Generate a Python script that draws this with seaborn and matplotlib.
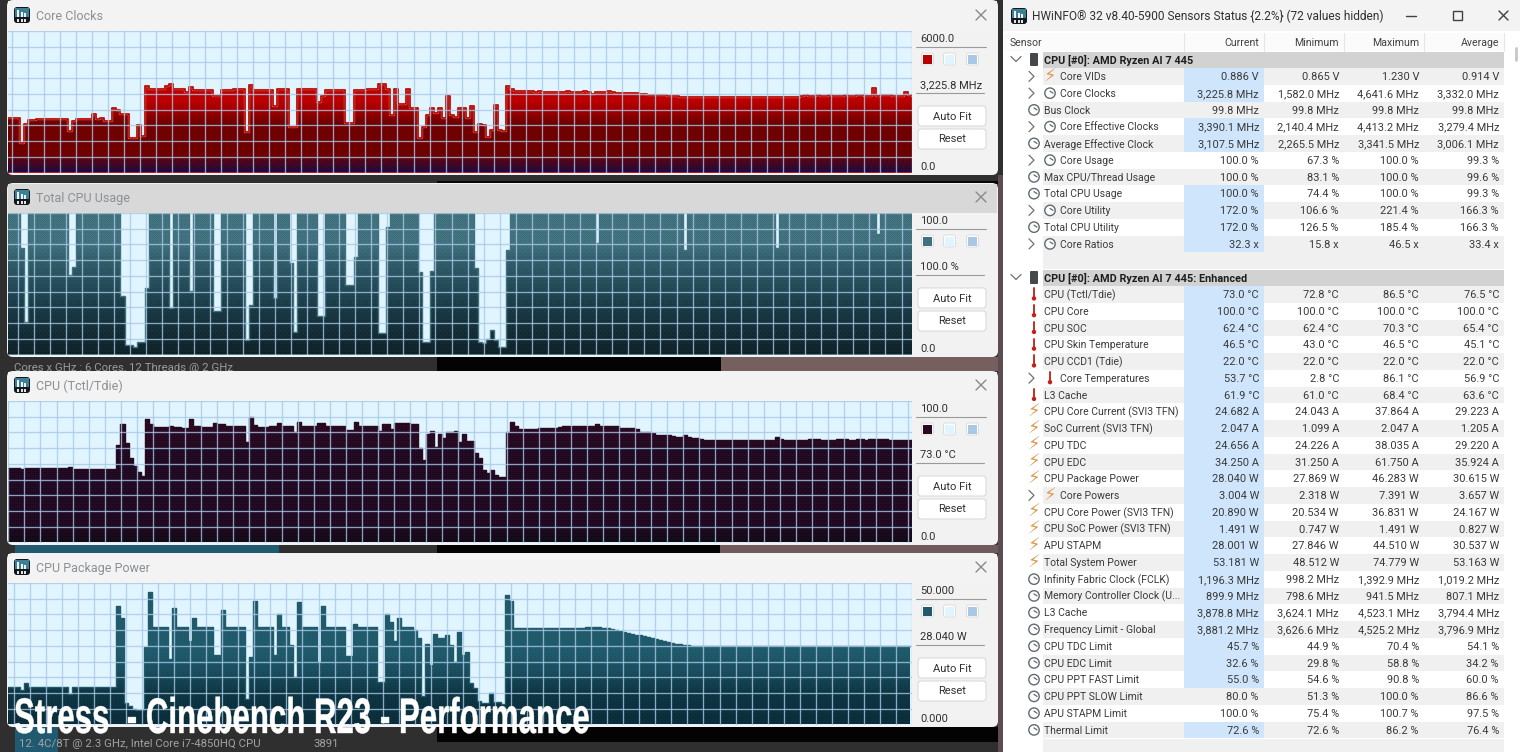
# HWiNFO sensor graphs next to the sensor table (Cinebench R23 stress run)
import numpy as np
import matplotlib
matplotlib.use("Agg")
import matplotlib.pyplot as plt
import matplotlib.patheffects as pe
from matplotlib.colors import to_rgb
from matplotlib.patches import FancyBboxPatch, Rectangle, Circle
from matplotlib.transforms import Affine2D
import seaborn as sns

# Graph data, one value per sample
core_clocks = [
    2290,2290,2290,1260,2050,2220,2220,2250,2250,2280,
    2280,2280,2280,2280,2280,1770,2190,2250,2250,2250,
    2250,2480,2280,2330,2190,2190,2720,2650,2460,2460,
    1460,1460,2010,1540,3680,3520,3520,3520,3520,3680,
    3750,3520,3520,3520,3420,3620,3510,3510,3510,3510,
    3510,3240,3240,3490,3490,3490,3540,3540,3540,1710,
    3700,3490,3490,3490,3490,3490,2830,3520,3520,3520,
    1920,1920,3560,3520,3520,3520,3520,3000,3250,3510,
    3510,3510,3510,3510,2110,2110,3510,3510,3510,3530,
    3530,3530,3750,3750,3520,2420,3560,2900,2900,3560,
    2730,2730,1460,1940,2430,2720,2510,2720,2330,3250,
    2430,2360,2750,2750,2290,2830,1730,2050,2010,1490,
    1800,2860,1800,1770,3665,3560,3465,3465,3465,3465,
    3440,3420,3440,3430,3420,3430,3430,3420,3430,3440,
    3430,3430,3420,3440,3430,3340,3420,3430,3420,3440,
    3400,3380,3370,3370,3370,3370,3360,3330,3320,3300,
    3300,3290,3280,3270,3260,3240,3230,3220,3210,3220,
    3200,3190,3190,3190,3200,3210,3210,3210,3200,3200,
    3190,3200,3200,3200,3200,3210,3200,3190,3200,3210,
    3200,3190,3200,3200,3210,3200,3190,3230,3290,3250,
    3240,3270,3250,3240,3270,3260,3260,3260,3290,3230,
    3260,3270,3270,3250,3260,3570,3260,3300,3280,3270,
    3260,3230,3240,3420,3270,3226,
]
cpu_usage = [
    100,100,100,75,23,100,100,100,100,100,
    100,100,100,100,100,56,62,100,100,100,
    100,100,100,100,100,100,100,100,41,7,
    7,5,9,9,47,100,100,100,100,100,
    33,100,100,100,100,45,100,100,100,100,
    100,31,31,100,100,100,100,100,100,10,
    35,100,100,100,100,100,40,100,100,100,
    65,16,100,100,100,100,100,27,27,100,
    100,100,100,100,49,49,69,100,100,100,
    100,100,15,15,90,100,100,100,100,100,
    100,100,58,9,9,59,100,100,100,100,
    100,100,100,100,100,100,61,9,8,11,
    17,10,5,5,74,100,100,100,100,100,
    100,100,100,100,100,100,100,100,100,100,
    100,100,100,100,100,100,79,100,100,100,
    100,100,100,100,100,100,100,100,100,100,
    100,100,100,100,100,100,100,100,74,100,
    100,100,100,100,100,100,100,100,100,100,
    100,100,100,100,100,100,100,100,100,100,
    100,75,100,100,100,100,100,100,100,100,
    100,100,100,100,100,100,100,100,100,100,
    100,100,100,100,100,100,85,100,100,100,
    100,100,100,100,100,100,
]
cpu_temp = [
    52.4,52.4,52.4,51.7,52.6,52.6,52.6,52.6,52.6,52.6,
    52.6,52.6,52.4,52.4,52.4,53.5,51.7,51.7,51.7,51.7,
    51.7,51.7,51.7,51.7,51.7,51.7,51.7,69,84,70.5,
    59.4,54,50,47,87,84,81.4,81.4,81.4,81.4,
    82.5,81.4,81.4,81,81,87,82,82,81.4,81.4,
    81.4,84.7,83.5,83.5,82,82,82,82,82,71,
    88.4,83,81.4,81.4,81.4,82,82,84.7,82,82,
    82,78,85,82,82,82.5,82.5,84.7,84.7,82.5,
    82.5,82.5,82.5,82.5,79.5,79.5,85,82,82,82,
    82,82,79,83.7,83.7,80,84.7,84.7,84.7,84.7,
    83.5,84,67,58,77,79,67.7,76.7,74,78,
    78,79,71,76.7,71.7,71.7,63,59.4,51,49,
    51,48,46.5,46.5,78,85.4,82,80,80,80,
    80,80,81,81,81,81,81,81.5,82.3,82.3,
    82.3,82.3,82.3,82.3,82.3,82.3,84,82.3,82.3,82.3,
    82.3,82,81,80.7,80.7,80.7,80.5,78.3,78.3,78,
    77.5,76,76,75.8,75.8,75,74.8,74.8,76,74.5,
    74,73.5,73,72.6,72.6,72.6,72.6,72.6,72.6,72.4,
    72.6,72.6,72.6,72.4,72.6,72.6,72.6,72.6,72.6,72.6,
    72.6,74.3,72.8,72.4,72.4,72.4,72.4,72.6,72.4,72.8,
    73,72.8,72.6,72.6,72.4,72.6,72.8,72.8,72.8,72.6,
    72.6,72.8,72.8,72.6,73,72.8,73,72.8,72.8,72.6,
    72.6,72.6,72.6,72.6,72.6,72.6,
]
package_power = [
    13.4,13.4,13.4,12.3,14.6,13.4,13.4,13.4,13.4,13.4,
    13.4,13.4,13.4,13.4,13.4,10.7,13.4,13.4,13.4,13.4,
    13.4,13.4,13.4,13.4,13.4,13.4,13.4,41.8,37.7,7.6,
    6.4,5.6,5.3,5.3,27.5,46.7,34.5,34.5,34.5,34.5,
    23,41.2,34.5,34.5,34.5,29.4,37.7,34.5,34.5,34.5,
    34.5,24.4,24.4,40.3,34.5,34.5,34.5,34.5,34.5,9,
    24,43.8,34.5,34.5,34.5,34.5,24.5,39,34.5,34.5,
    28,16.8,43.2,34.5,34.5,34.5,34.5,22,41.8,34.5,
    34.5,34.5,34.5,34.5,24.2,24.2,35.6,34.5,34.5,34.5,
    34.5,34.5,15,15,38.9,36.2,29.4,37.7,34.5,34.5,
    34.5,33.5,30.7,10.2,28.6,21,31.9,30.4,30.7,31.5,
    28,22.2,32.7,24.5,25.7,14.6,12.8,8.2,7.6,7.6,
    11,7.8,7.8,7.4,45.9,43.8,34.2,34.2,34.2,34.2,
    34.2,34.2,34.2,34.2,34.2,34.2,34.2,34.2,34.2,34.2,
    34.2,34.2,34.2,34.2,34.4,34.4,34.4,34.4,34.2,34.2,
    33.8,33.4,33.0,32.7,32.4,32.1,31.8,31.5,31.2,30.9,
    30.6,30.3,30.0,29.6,29.2,28.9,28.6,28.4,28.2,28.0,
    27.8,27.6,27.6,27.6,27.6,27.6,27.6,27.6,27.6,27.6,
    27.6,27.6,27.6,27.6,27.6,27.6,27.6,27.6,27.6,27.6,
    27.6,27.6,27.6,27.6,27.6,27.6,27.6,27.6,27.6,27.6,
    27.6,27.6,27.6,27.6,27.6,27.6,27.6,27.6,27.6,27.6,
    27.6,27.6,27.6,27.6,27.6,27.6,27.6,27.6,27.6,27.6,
    27.6,27.6,27.6,27.6,27.6,27.6,
]

graph_titles = ["Core Clocks", "Total CPU Usage", "CPU (Tctl/Tdie)", "CPU Package Power"]
graph_values = [core_clocks, cpu_usage, cpu_temp, package_power]
graph_max = [6000, 100, 100, 50]
max_labels = ["6000.0", "100.0", "100.0", "50.000"]
min_labels = ["0.0", "0.0", "0.0", "0.000"]
now_labels = ["3,225.8 MHz", "100.0 %", "73.0 °C", "28.040 W"]

# Sensor table
section_names = ["CPU [#0]: AMD Ryzen AI 7 445", "CPU [#0]: AMD Ryzen AI 7 445: Enhanced"]
table_columns = ["Sensor", "Current", "Minimum", "Maximum", "Average"]

names_a = ["Core VIDs", "Core Clocks", "Bus Clock", "Core Effective Clocks", "Average Effective Clock",
           "Core Usage", "Max CPU/Thread Usage", "Total CPU Usage", "Core Utility", "Total CPU Utility",
           "Core Ratios"]
current_a = ["0.886 V", "3,225.8 MHz", "99.8 MHz", "3,390.1 MHz", "3,107.5 MHz", "100.0 %", "100.0 %",
             "100.0 %", "172.0 %", "172.0 %", "32.3 x"]
minimum_a = ["0.865 V", "1,582.0 MHz", "99.8 MHz", "2,140.4 MHz", "2,265.5 MHz", "67.3 %", "83.1 %",
             "74.4 %", "106.6 %", "126.5 %", "15.8 x"]
maximum_a = ["1.230 V", "4,641.6 MHz", "99.8 MHz", "4,413.2 MHz", "3,341.5 MHz", "100.0 %", "100.0 %",
             "100.0 %", "221.4 %", "185.4 %", "46.5 x"]
average_a = ["0.914 V", "3,332.0 MHz", "99.8 MHz", "3,279.4 MHz", "3,006.1 MHz", "99.3 %", "99.6 %",
             "99.3 %", "166.3 %", "166.3 %", "33.4 x"]
icons_a = "vcccccccccc"
nested_a = [1, 1, 0, 1, 0, 1, 0, 0, 1, 0, 1]
marked_a = [1, 1, 0, 1, 1, 0, 0, 1, 1, 1, 1]

names_b = ["CPU (Tctl/Tdie)", "CPU Core", "CPU SOC", "CPU Skin Temperature", "CPU CCD1 (Tdie)",
           "Core Temperatures", "L3 Cache", "CPU Core Current (SVI3 TFN)", "SoC Current (SVI3 TFN)",
           "CPU TDC", "CPU EDC", "CPU Package Power", "Core Powers", "CPU Core Power (SVI3 TFN)",
           "CPU SoC Power (SVI3 TFN)", "APU STAPM", "Total System Power", "Infinity Fabric Clock (FCLK)",
           "Memory Controller Clock (U...", "L3 Cache", "Frequency Limit - Global", "CPU TDC Limit",
           "CPU EDC Limit", "CPU PPT FAST Limit", "CPU PPT SLOW Limit", "APU STAPM Limit", "Thermal Limit"]
current_b = ["73.0 °C", "100.0 °C", "62.4 °C", "46.5 °C", "22.0 °C", "53.7 °C", "61.9 °C", "24.682 A",
             "2.047 A", "24.656 A", "34.250 A", "28.040 W", "3.004 W", "20.890 W", "1.491 W", "28.001 W",
             "53.181 W", "1,196.3 MHz", "899.9 MHz", "3,878.8 MHz", "3,881.2 MHz", "45.7 %", "32.6 %",
             "55.0 %", "80.0 %", "100.0 %", "72.6 %"]
minimum_b = ["72.8 °C", "100.0 °C", "62.4 °C", "43.0 °C", "22.0 °C", "2.8 °C", "61.0 °C", "24.043 A",
             "1.099 A", "24.226 A", "31.250 A", "27.869 W", "2.318 W", "20.534 W", "0.747 W", "27.846 W",
             "48.512 W", "998.2 MHz", "798.6 MHz", "3,624.1 MHz", "3,626.6 MHz", "44.9 %", "29.8 %",
             "54.6 %", "51.3 %", "75.4 %", "72.6 %"]
maximum_b = ["86.5 °C", "100.0 °C", "70.3 °C", "46.5 °C", "22.0 °C", "86.1 °C", "68.4 °C", "37.864 A",
             "2.047 A", "38.035 A", "61.750 A", "46.283 W", "7.391 W", "36.831 W", "1.491 W", "44.510 W",
             "74.779 W", "1,392.9 MHz", "941.5 MHz", "4,523.1 MHz", "4,525.2 MHz", "70.4 %", "58.8 %",
             "90.8 %", "100.0 %", "100.7 %", "86.2 %"]
average_b = ["76.5 °C", "100.0 °C", "65.4 °C", "45.1 °C", "22.0 °C", "56.9 °C", "63.6 °C", "29.223 A",
             "1.205 A", "29.220 A", "35.924 A", "30.615 W", "3.657 W", "24.167 W", "0.827 W", "30.537 W",
             "53.163 W", "1,019.2 MHz", "807.1 MHz", "3,794.4 MHz", "3,796.9 MHz", "54.1 %", "34.2 %",
             "60.0 %", "86.6 %", "97.5 %", "76.4 %"]
icons_b = "tttttttvvvvvvvvvvcccccccccc"
nested_b = [0, 0, 0, 0, 0, 1, 0, 0, 0, 0, 0, 0, 1, 0, 0, 0, 0, 0, 0, 0, 0, 0, 0, 0, 0, 0, 0]
marked_b = [1] * 24 + [0, 0, 1]

# Look of each graph: fill colours from top to bottom of the plot, grid offset in samples
graph_stops = [
    [(0, "#c00000"), (.5, "#bc0000"), (.66, "#700000"), (.88, "#6e0000"), (1, "#200a40")],
    [(0, "#41717e"), (.22, "#41717e"), (.33, "#335f6c"), (.45, "#28525f"), (.7, "#193843"), (1, "#0f2229")],
    [(0, "#2a0a22"), (.3, "#280a22"), (.34, "#200a22"), (.88, "#200a22"), (1, "#120a16")],
    [(0, "#205a6b"), (.5, "#205a6b"), (.62, "#1b4f60"), (.78, "#0d3543"), (1, "#0a2c3a")],
]
graph_swatch = ["#b80000", "#41717e", "#2a0a20", "#205a6b"]
grid_offset = [0.93, 2.4, 0.08, 1.43]
window_base = [0, 182, 370, 552]
title_bar = ["#f3f3f3", "#d8d8d8", "#f3f3f3", "#f3f3f3"]

bayer = (np.array([[0, 8, 2, 10], [12, 4, 14, 6], [3, 11, 1, 9], [15, 7, 13, 5]]) + .5) / 16

sns.set_theme(style="white")
plt.rcParams["font.family"] = ["Roboto", "DejaVu Sans"]

W, H = 1520, 752
fig = plt.figure(figsize=(W / 100, H / 100), dpi=100, facecolor="#2f2f2f")

# Full figure layer for window frames and table, in screen pixels
bg = fig.add_axes([0, 0, 1, 1], zorder=0)
bg.set_xlim(0, W)
bg.set_ylim(H, 0)
bg.axis("off")


def rect(x0, y0, x1, y1, color, z=1, **kw):
    bg.add_patch(Rectangle((x0, y0), x1 - x0, y1 - y0, facecolor=color, edgecolor="none", zorder=z, **kw))


def round_box(x0, y0, x1, y1, color, r=4, z=2, edge="none"):
    bg.add_patch(FancyBboxPatch((x0, y0), x1 - x0, y1 - y0, boxstyle=f"round,pad=0,rounding_size={r}",
                                facecolor=color, edgecolor=edge, linewidth=.7, zorder=z))


def hw_icon(x, y, z=5):
    # the little HWiNFO logo
    round_box(x, y, x + 16, y + 16, "#14181c", r=3, z=z)
    rect(x + 1, y + 1, x + 15, y + 10, "#3d7f95", z=z + .1)
    for dx, top in zip((3, 6.5, 10), (3, 5, 6)):
        rect(x + dx, y + top, x + dx + 2, y + 10, "#eef4f6", z=z + .2)
    for dx in (3, 6.5, 10):
        rect(x + dx, y + 11.5, x + dx + 2, y + 14.5, "#dfe4e6", z=z + .2)


# Desktop pieces showing between the windows
rect(437, 181, 1000, 184, "#060606")
rect(437, 357, 721, 371, "#030303")
rect(721, 357, 1003, 371, "#75605f")
rect(15, 545, 279, 553, "#1f5a70")
rect(437, 545, 720, 553, "#030303")
rect(720, 545, 1003, 553, "#6f5b5c")
rect(437, 727, 1003, 742, "#030303")
rect(15, 727, 58, 752, "#1f5a70")
rect(998, 175, 1003, 752, "#5d4d50")
bg.text(14, 368, "Cores x GHz : 6 Cores, 12 Threads @ 2 GHz", color="#9a9a9a", fontsize=8.2, va="center", zorder=2)
bg.text(19, 744, "12. 4C/8T @ 2.3 GHz, Intel Core i7-4850HQ CPU", color="#a2a2a2", fontsize=8.2, va="center", zorder=2)
bg.text(313, 744, "3891", color="#a2a2a2", fontsize=8.2, va="center", zorder=2)

# Graph windows
for k, base in enumerate(window_base):
    top = base + (0 if k == 0 else 1)
    round_box(7, top, 998, base + 175, "#f2f2f2", r=6)
    rect(8, top + 1, 997, base + 31, title_bar[k], z=2.1)
    hw_icon(14, base + 7)
    bg.text(36, base + 16.2, graph_titles[k], color="#8b9095", fontsize=9, va="center", zorder=5)
    # close cross
    bg.plot([976, 986], [base + 10, base + 20], color="#8a8a8a", lw=1, zorder=5)
    bg.plot([976, 986], [base + 20, base + 10], color="#8a8a8a", lw=1, zorder=5)

    # side controls
    bg.text(920, base + 39, max_labels[k], color="#303030", fontsize=8, va="center", zorder=5)
    bg.plot([916, 986], [base + 46.5, base + 46.5], color="#9a9a9a", lw=.8, zorder=5)
    for sx, sc in zip((927.5, 949.5, 972.5), (graph_swatch[k], "#e0f5ff", "#a8c8e6")):
        round_box(sx - 6, base + 53, sx + 6, base + 65, "#ffffff", r=2, z=4, edge="#dddddd")
        rect(sx - 4.5, base + 54.5, sx + 4.5, base + 63.5, sc, z=5)
    bg.text(920, base + 85.5, now_labels[k], color="#303030", fontsize=8, va="center", zorder=5)
    bg.plot([916, 984], [base + 93, base + 93], color="#9a9a9a", lw=.8, zorder=5)
    round_box(918, base + 106, 986, base + 126, "#ffffff", r=3, z=4, edge="#d6d6d6")
    bg.text(952, base + 116.5, "Auto Fit", color="#303030", fontsize=8, ha="center", va="center", zorder=5)
    round_box(918, base + 129, 986, base + 149, "#ffffff", r=3, z=4, edge="#d6d6d6")
    bg.text(952, base + 139.5, "Reset", color="#303030", fontsize=8, ha="center", va="center", zorder=5)
    bg.text(920, base + 166.5, min_labels[k], color="#303030", fontsize=8, va="center", zorder=5)

# The graphs themselves
for k, base in enumerate(window_base):
    ax = fig.add_axes([8 / W, 1 - (base + 172.5) / H, 904 / W, 141.5 / H], zorder=1)
    values = np.array(graph_values[k], dtype=float)
    samples = np.arange(len(values))
    ymax = graph_max[k]
    ax.set_facecolor("#e0f5ff")

    # stippled fill, quantised like the screenshot's GIF palette
    pos, cols = zip(*graph_stops[k])
    cols = np.array([to_rgb(c) for c in cols]) * 255
    t = np.linspace(0, 1, 142)
    ramp = np.stack([np.interp(t, pos, cols[:, c]) for c in range(3)], axis=1)
    img = np.repeat(ramp[:, None, :], 904, axis=1)
    tile = np.tile(bayer, (36, 226))[:142, :904, None]
    img = np.clip(np.floor((img + tile * 12) / 12) * 12, 0, 255) / 255

    area = ax.fill_between(samples, values, step="post", color=graph_swatch[k], linewidth=0, zorder=1)
    im = ax.imshow(img, extent=[0, len(values) - 1, 0, ymax], aspect="auto", interpolation="nearest", zorder=1.5)
    im.set_clip_path(area.get_paths()[0], ax.transData)
    if k == 0:
        sns.lineplot(x=samples, y=values, ax=ax, color="#e8c8a8", linewidth=1.6, drawstyle="steps-post",
                     errorbar=None, legend=False, zorder=1.8)
    sns.lineplot(x=samples, y=values, ax=ax, color=graph_swatch[k], linewidth=1.2 if k == 0 else 1.0,
                 drawstyle="steps-post", errorbar=None, legend=False, zorder=2)

    ax.set_xlim(0, len(values) - 1)
    ax.set_ylim(0, ymax)
    ax.set_xlabel("")
    ax.set_ylabel("")
    ax.set_xticks(np.arange(grid_offset[k], len(values), 4))
    ax.set_yticks(np.linspace(0, ymax, 10))
    ax.set_axisbelow(False)
    ax.grid(True, color="#a9c8e6", alpha=.8, linewidth=.95)
    ax.tick_params(length=0, labelbottom=False, labelleft=False)
    for s in ax.spines.values():
        s.set_visible(False)

# Sensor table window
rect(1003, 0, W, H, "#ffffff", z=2)
rect(1003, 0, W, 31, "#f3f3f3", z=2.1)
hw_icon(1011, 8)
bg.text(1032, 16, "HWiNFO® 32 v8.40-5900 Sensors Status {2.2%} (72 values hidden)", color="#303030",
        fontsize=8.6, va="center", zorder=5)
bg.plot([1406, 1416], [15.5, 15.5], color="#404040", lw=1, zorder=5)
bg.add_patch(Rectangle((1453, 11), 9, 9, facecolor="none", edgecolor="#404040", lw=1, zorder=5))
bg.plot([1499, 1508], [11, 20], color="#404040", lw=1, zorder=5)
bg.plot([1499, 1508], [20, 11], color="#404040", lw=1, zorder=5)

rect(1003, 33, 1504, 51, "#fbfbfb", z=2.2)
column_right = [1259, 1339, 1419, 1499]
bg.text(1010, 42.7, table_columns[0], color="#404040", fontsize=7.6, va="center", zorder=5)
for x, label in zip(column_right, table_columns[1:]):
    bg.text(x, 42.7, label, color="#404040", fontsize=7.6, ha="right", va="center", zorder=5)
for x in (1184, 1264, 1344, 1424, 1504):
    bg.plot([x, x], [33, 51], color="#e6e6e6", lw=.8, zorder=3)
bg.plot([1516, 1516], [48, 60], color="#c8c8c8", lw=2, zorder=3)
rect(1043, 251, 1504, 269, "#f0f0f0", z=2.2)
rect(1043, 739, 1504, H, "#f0f0f0", z=2.2)


def row_icon(kind, x, y):
    if kind == "v":
        bg.text(x, y, "⚡", color="#dc9a50", fontsize=13, family="DejaVu Sans", ha="center", va="center", zorder=5)
    elif kind == "t":
        bg.plot([x, x], [y - 6, y + 3], color="#c03028", lw=1.4, zorder=5)
        bg.add_patch(Circle((x, y + 4), 2.2, facecolor="#c81e14", edgecolor="none", zorder=5))
    else:
        bg.add_patch(Circle((x, y), 5.2, facecolor="white", edgecolor="#606a70", lw=1, zorder=5))
        bg.plot([x, x + 3], [y - 2, y], color="#606a70", lw=.9, zorder=6)


def chevron(x, y):
    bg.plot([x - 3, x + 2, x - 3], [y - 5, y, y + 5], color="#707070", lw=.9, zorder=5)


def draw_section(name, head_y, names, cur, lo, hi, avg, icons, nested, marked):
    rect(1043, head_y - 8, 1504, head_y + 8.5, "#d2d2d2", z=2.3)
    bg.plot([1011, 1016, 1021], [head_y - 3, head_y + 2, head_y - 3], color="#707070", lw=.9, zorder=5)
    round_box(1030, head_y - 6.5, 1038, head_y + 6.5, "#45494c", r=1, z=5)
    bg.text(1044, head_y + .7, name, color="#1e1e1e", fontsize=7.8, fontweight="bold", va="center", zorder=5)
    for r, label in enumerate(names):
        y = head_y + 16.9 + r * 16.75
        if r % 2 == 0:
            rect(1043, y - 8.4, 1504, y + 8.4, "#f0f0f0", z=2.2)
        if marked[r]:
            rect(1184, y - 8.4, 1264, y + 8.4, "#cfe5fb", z=2.4)
        if nested[r]:
            chevron(1032, y)
            row_icon(icons[r], 1050, y)
            bg.text(1060, y + .7, label, color="#3a3a3a", fontsize=7.5, va="center", zorder=5)
        else:
            row_icon(icons[r], 1034, y)
            bg.text(1044, y + .7, label, color="#3a3a3a", fontsize=7.5, va="center", zorder=5)
        for x, val in zip(column_right, (cur[r], lo[r], hi[r], avg[r])):
            bg.text(x, y + .7, val, color="#3a3a3a", fontsize=7.9, ha="right", va="center", zorder=5)


draw_section(section_names[0], 59.5, names_a, current_a, minimum_a, maximum_a, average_a,
             icons_a, nested_a, marked_a)
draw_section(section_names[1], 277.5, names_b, current_b, minimum_b, maximum_b, average_b,
             icons_b, nested_b, marked_b)


# Big caption: no condensed face is installed, so stretch the text upward from its baseline
class Stretch(pe.AbstractPathEffect):
    def __init__(self, sy, y0):
        super().__init__()
        self.sy, self.y0 = sy, y0

    def draw_path(self, renderer, gc, tpath, affine, rgbFace=None):
        tall = affine + Affine2D().translate(0, -self.y0).scale(1, self.sy).translate(0, self.y0)
        gc0 = renderer.new_gc()
        gc0.copy_properties(gc)
        gc0.set_linewidth(.3)
        gc0.set_foreground("white")
        renderer.draw_path(gc0, tpath, tall, rgbFace)
        gc0.restore()


caption = fig.text(14 / W, 1 - 733 / H, "Stress  - Cinebench R23 - Performance", color="white", fontsize=20,
                   family=["Liberation Sans Narrow", "Liberation Sans"], fontweight="bold",
                   va="baseline", zorder=10)
caption_width = caption.get_window_extent(fig.canvas.get_renderer()).width
caption.set_fontsize(20 * 576 / caption_width)
# cap height of the caption is about 36 px on screen
caption.set_path_effects([Stretch(36 / (caption.get_fontsize() * 100 / 72 * .72), H - 733)])

fig.savefig("out.png", dpi=100, facecolor=fig.get_facecolor())
